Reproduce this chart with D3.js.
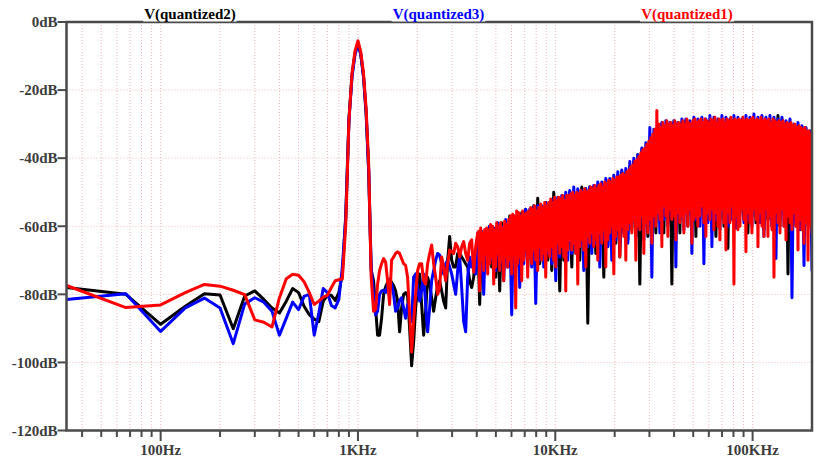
<!DOCTYPE html>
<html><head><meta charset="utf-8">
<script src="https://cdn.jsdelivr.net/npm/d3@7"></script>
<style>html,body{margin:0;padding:0;background:#fff;}svg{display:block;}</style>
</head><body>
<script>
// ---------- data ----------
const seriesNames = ["V(quantized2)", "V(quantized3)", "V(quantized1)"];
const seriesColors = ["#000000", "#0000ff", "#ff0000"];

// low-frequency FFT bins (Hz)
const lowFreq = [33.33,66.67,100,133.33,166.67,200,233.33,266.67,300,333.33,366.67,400,433.33,466.67,500,533.33,566.67,600,633.33,666.67,700,733.33,766.67,800,833.33,866.67,900,933.33,966.67,1000,1033.33,1066.67,1100,1133.33,1166.67];
const lowBlack = [-78,-80,-88.8,-83.5,-79.8,-80.2,-90.1,-80.5,-79,-81.5,-84,-85.5,-82,-78.3,-79.5,-83.5,-86,-87.3,-88,-82,-80.3,-80.3,-81.8,-79.5,-74,-57,-28.5,-15.5,-9,-6.5,-9.5,-16,-27,-44,-73];
const lowBlue  = [-81.5,-79.8,-90.9,-84,-81.1,-84,-94.5,-82.8,-81,-82.3,-85,-92,-87,-82.3,-84.5,-80.6,-80,-92,-85.5,-78.3,-79.5,-83.3,-84,-81.5,-72,-58,-29,-16,-9.5,-6.5,-9.5,-16,-26.5,-43.5,-72];
const lowRed   = [-77.4,-83.9,-83.1,-79.5,-77.1,-77.6,-78.8,-80.1,-87.5,-88.2,-89.6,-81,-75.4,-74.1,-74.4,-76.3,-79.5,-83,-82,-80.8,-80.3,-78,-76,-75.7,-75.5,-60,-29,-15,-8.5,-5.5,-8.8,-15,-25.5,-41.8,-75];

// high-frequency part (black, blue): values read on a log-spaced grid 1.2 kHz .. 200 kHz
const hfStart = 1200, hfEnd = 200000;
const hfBlack = [-76,-84,-92,-92,-87,-80,-77.8,-76.5,-75.5,-76.5,-77.4,-79,-82,-91,-84,-80,-79.5,-80.5,-90,-101,-94,-84,-78,-74,-83,-92,-85,-75,-77,-81,-85,-81,-77.5,-76,-79,-82,-84,-70,-63,-70,-72,-72,-68,-68,-69,-70,-71,-72,-76,-78,-75,-68,-63,
-83,-62,-74,-61,-70,-60,-72,-61,-75,-60,-79,-59,-73,-60,-70,-57,-74,-58,-72,-56,-76,-56,-69,-55,-72,-56,-70,-54,-74,-51.8,-71,-55,-68,-53,-70,-53,-73,-50,-68,-52,-79,-52,-70,-51,-67,-50,-72,-51,-68,-50,-70,-48.5,-66,-49,-88.5,-48.5,-66,-48.5,-68,-48,-64,-47.5,-75,-47,-66,-46.5,-63,-46,-65,-45,-69,-44,-62,-44.5,-64,-42.5,-61,-41,-63,-39,-77,-37.5,-60,-37,-63,-35,-60,-33,-62,-30,-58,-30,-62,-30.5,-59,-30,-77,-29.5,-57,-30,-62,-29.5,-56,-29,-60,-29.5,-57,-29,-63,-29.5,-55,-29,-60,-29.5,-57,-29,-56,-29,-63,-29.5,-58,-29,-60,-29.5,-66.5,-29,-57,-29.5,-60,-29,-56,-29.5,-58,-29,-62,-29,-57,-29.5,-59,-29,-56,-29,-61,-28.5,-58,-29,-60,-28.5,-57,-27.5,-60,-28.5,-56,-29.5,-74,-29.5,-58,-30.5,-60,-30.5,-57,-31,-62,-31.5,-59,-32,-60];
const hfBlue = [-80,-86,-85,-80,-79,-78.8,-79.5,-77.5,-76,-77,-80,-85,-84,-81.8,-81,-84,-87,-83,-86,-88,-75,-74,-78,-82,-79,-74,-83,-91,-84,-76,-73,-70,-68,-68.5,-71,-74,-71,-70,-72,-74,-77,-80,-73,-69,-78,-88,-91,-75,-69,-72,-70,-74,-62,
-75,-61.5,-80,-61,-72,-60,-70,-60.5,-73,-59,-71,-60,-76,-58,-72,-58,-86,-57,-70,-56,-78,-56.5,-71,-55,-69,-55,-72,-54.5,-82.7,-54,-70,-54,-72,-53,-68,-53,-71,-52,-76,-51.5,-69,-51,-66,-50,-70,-49.5,-68,-48.5,-67,-49,-66,-49.5,-73,-49,-66,-48.5,-68,-48,-65,-47,-72,-47,-64,-46,-66,-46,-70,-45,-64,-44,-66,-43.5,-62,-43,-65,-41,-60,-40,-63,-39,-61,-37,-64,-35.5,-60,-31,-75,-31.5,-59,-30,-62,-29.5,-58,-29,-60,-29.5,-57,-29,-72,-29.5,-58,-28.5,-61,-28.5,-57,-29,-68,-28,-58,-28.5,-60,-28,-71,-28.5,-59,-27.5,-66,-28,-58,-28.5,-61,-27.5,-57,-28,-60,-28.5,-58,-27.5,-60.6,-28,-57,-28.5,-59,-27.5,-58,-28,-60,-27,-57,-28,-59,-27.5,-63,-28,-58,-27.5,-60,-28,-69.5,-28.5,-58,-28,-60,-29,-57,-28.5,-81,-30,-59,-29.5,-61,-30.5,-71.5,-31,-60,-32,-73];

// red: 1.2 kHz .. 4.04 kHz (coarser grid), then 4.09 kHz .. 200 kHz (fine grid)
const redAStart = 1200, redAEnd = 4043;
const hfRedA = [-85,-84.5,-77,-73,-71,-69.5,-70.5,-76,-83,-70,-69,-68,-67.5,-68,-69.5,-71,-71.5,-75,-86,-97,-88,-80,-73,-71,-71,-76,-77,-71,-68,-65.5,-71,-75,-80,-78,-69,-72,-76,-71,-67,-67.5,-68,-65,-66,-69,-66,-64.5,-68,-70,-65,-64,-73.5,-66,-62];
const redBStart = 4090, redBEnd = 200000;
const hfRedB = [
-61.5,-79,-60.5,-70,-62,-73,-61,-68,-60.5,-74,
-61,-71,-59.5,-69,-60,-77,-61,-72,-59,-68,
-60,-73,-59,-70,-60.5,-76,-58.5,-69,-59.5,-72,
-58,-70,-57,-74,-56.5,-68,-57,-84,-55.5,-71,
-56,-69,-57,-76,-55.5,-70,-56.5,-67,-56,-75,
-55.5,-69,-54.5,-71,-55,-67,-54,-70,-55.5,-73,
-54.5,-66,-53.5,-70,-54.5,-68,-53,-75,-54,-67,
-53,-69,-52,-66,-53,-70,-51.5,-72,-52.5,-65,
-51.5,-68,-52,-66,-51,-69,-52.5,-79,-51,-67,
-51,-64,-50.5,-67,-50,-65,-51,-68,-50,-77,
-50.5,-66,-49.5,-64,-50,-67,-49,-72,-50,-63,
-49.5,-65,-48.5,-62,-49,-66,-48,-64,-49,-70,
-48,-62,-47.5,-65,-48.5,-61,-47,-72,-47.5,-64,
-46.5,-62,-47,-60,-46,-74,-46.5,-63,-45.5,-61,
-45.5,-69,-45,-60,-44.5,-63,-45,-70,-44,-61,
-43.5,-59,-42.5,-62,-42,-58,-41,-70,-40.5,-60,
-39.5,-61,-38.5,-57,-37.5,-68,-37,-59,-36,-62,
-35,-58,-34,-65,-33,-57,-31.5,-60,-26,-56,
-30,-58,-31,-66,-29.5,-54,-30.5,-57,-29,-63,
-30,-55,-29.5,-58,-30.5,-57,-29,-64,-30,-56,
-29.5,-59,-30,-57,-29,-62,-30,-56,-28.5,-60,
-29.5,-55,-30,-65,-29,-58,-28.5,-57,-29.5,-60,
-29,-57,-28.5,-54,-29.5,-59,-28.5,-63,-29,-56,
-29.5,-58,-28.5,-55,-29,-61,-28,-56,-29.5,-60,
-28.5,-64,-29,-55,-28.5,-59,-29.5,-67,-28.5,-56,
-29,-59,-28,-54,-29,-77,-28.5,-57,-29,-61,
-28.5,-60,-29,-55,-28,-58,-29,-67.5,-28.5,-56,
-29,-59,-28.5,-62,-28,-55,-29,-58,-28.5,-66,
-29,-56,-28,-60,-29,-63,-28.5,-55,-29,-63,
-28.5,-57,-29.5,-61,-28.5,-75,-29,-56,-29.5,-59,
-29,-62,-29.5,-55,-29,-60,-30,-64,-29.5,-57,
-30,-59,-29.5,-61,-30.5,-56,-30,-60,-31,-67,
-30.5,-58,-31,-61,-31.5,-65,-31,-59,-32,-70,
-32,-60,-33,-62];

// axis ticks
const yTicks = [0, -20, -40, -60, -80, -100, -120];
const yTickLabels = ["0dB", "-20dB", "-40dB", "-60dB", "-80dB", "-100dB", "-120dB"];
const xMajor = [100, 1000, 10000, 100000];
const xMajorLabels = ["100Hz", "1KHz", "10KHz", "100KHz"];

// ---------- layout ----------
const W = 817, H = 464;
const L = 66.5, R = 812, T = 22, B = 430.5;
const fMin = 100 / 3, fMax = 200000;
const axisColor = "#4a4a4a";
const font = "'Liberation Serif','Times New Roman',serif";

const svg = d3.select("body").append("svg").attr("width", W).attr("height", H);
const x = d3.scaleLog().domain([fMin, fMax]).range([L, R]);
const y = d3.scaleLinear().domain([-120, 0]).range([B, T]);

// minor grid frequencies
const gridFreqs = [];
for (let d = 1; d <= 5; d++) for (let m = 1; m <= 9; m++) {
  const f = m * Math.pow(10, d);
  if (f > fMin + 1 && f < fMax - 1) gridFreqs.push(f);
}

const grid = svg.append("g");
grid.selectAll("line.v").data(gridFreqs).join("line")
  .attr("x1", d => x(d)).attr("x2", d => x(d)).attr("y1", T).attr("y2", B)
  .attr("stroke", "#f2b8b8").attr("stroke-width", 1).attr("stroke-dasharray", "1,2");
grid.selectAll("line.h").data(yTicks.filter(v => v > -120 && v < 0)).join("line")
  .attr("x1", L).attr("x2", R).attr("y1", d => y(d)).attr("y2", d => y(d))
  .attr("stroke", "#f2b8b8").attr("stroke-width", 1).attr("stroke-dasharray", "1,2");

// series assembly
function logGrid(f0, f1, n) {
  return d3.range(n).map(i => f0 * Math.pow(f1 / f0, i / (n - 1)));
}
function pairs(freqs, vals) { return freqs.map((f, i) => [f, vals[i]]); }
const hfFreq = logGrid(hfStart, hfEnd, hfBlack.length);
const lowB = pairs(lowFreq, lowBlack), lowU = pairs(lowFreq, lowBlue), lowR = pairs(lowFreq, lowRed);
const series = [
  lowB.concat(pairs(hfFreq, hfBlack)),
  lowU.concat(pairs(hfFreq, hfBlue)),
  lowR.concat(pairs(logGrid(redAStart, redAEnd, hfRedA.length), hfRedA))
      .concat(pairs(logGrid(redBStart, redBEnd, hfRedB.length), hfRedB))
];

svg.append("clipPath").attr("id", "clip").append("rect")
  .attr("x", L).attr("y", T).attr("width", R - L).attr("height", B - T);

const line = d3.line().x(d => x(d[0])).y(d => y(d[1]));
const plot = svg.append("g").attr("clip-path", "url(#clip)");
series.forEach((s, i) => {
  plot.append("path").datum(s).attr("d", line)
    .attr("fill", "none").attr("stroke", seriesColors[i])
    .attr("stroke-width", 3).attr("stroke-linejoin", "round").attr("stroke-linecap", "round");
});

// frame
svg.append("rect").attr("x", L).attr("y", T).attr("width", R - L).attr("height", B - T)
  .attr("fill", "none").attr("stroke", axisColor).attr("stroke-width", 2.5);

// y ticks & labels
const yAx = svg.append("g");
yAx.selectAll("line").data(yTicks).join("line")
  .attr("x1", L - 9).attr("x2", L).attr("y1", d => y(d)).attr("y2", d => y(d))
  .attr("stroke", axisColor).attr("stroke-width", 2);
yAx.selectAll("text").data(yTicks).join("text")
  .attr("x", L - 9).attr("y", d => y(d)).attr("dy", "0.35em")
  .attr("text-anchor", "end").attr("font-family", font).attr("font-weight", "bold")
  .attr("font-size", 15).attr("fill", "#3c3c3c")
  .text((d, i) => yTickLabels[i]);

// x ticks
const xAx = svg.append("g");
xAx.selectAll("line.minor").data(gridFreqs.filter(f => !xMajor.includes(f))).join("line")
  .attr("x1", d => x(d)).attr("x2", d => x(d)).attr("y1", B).attr("y2", B + 6.5)
  .attr("stroke", axisColor).attr("stroke-width", 2);
xAx.selectAll("line.major").data(xMajor).join("line")
  .attr("x1", d => x(d)).attr("x2", d => x(d)).attr("y1", B).attr("y2", B + 10.5)
  .attr("stroke", axisColor).attr("stroke-width", 2);
xAx.selectAll("text").data(xMajor).join("text")
  .attr("x", d => x(d)).attr("y", 455)
  .attr("text-anchor", "middle").attr("font-family", font).attr("font-weight", "bold")
  .attr("font-size", 15).attr("fill", "#3c3c3c")
  .text((d, i) => xMajorLabels[i]);

// series titles
const titleX = [190, 438.5, 687];
seriesNames.forEach((n, i) => {
  const g = svg.append("g");
  const bg = g.append("rect").attr("fill", "#fff");
  const t = g.append("text").attr("x", titleX[i]).attr("y", 19)
    .attr("text-anchor", "middle").attr("font-family", font).attr("font-weight", "bold")
    .attr("font-size", 15).attr("fill", seriesColors[i]).text(n);
  const bb = t.node().getBBox();
  bg.attr("x", bb.x - 1).attr("y", bb.y).attr("width", bb.width + 2).attr("height", 21.5 - bb.y);
});
</script>
</body></html>
